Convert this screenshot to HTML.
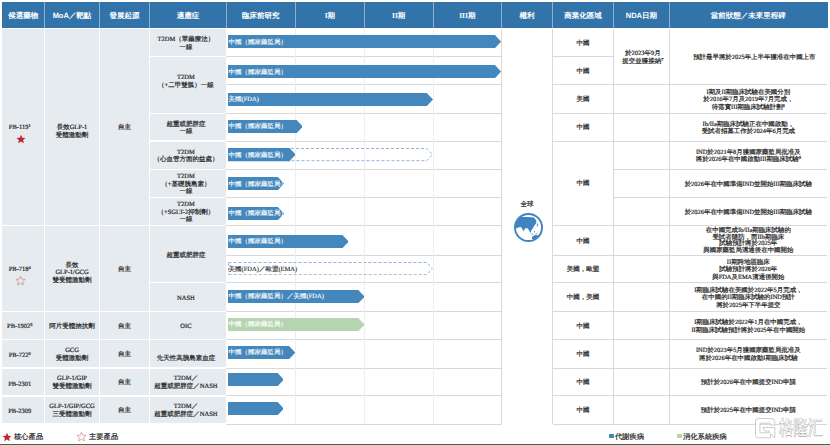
<!DOCTYPE html><html><head><meta charset="utf-8"><style>
html,body{margin:0;padding:0;background:#fff;width:830px;height:445px;overflow:hidden;text-rendering:geometricPrecision}
body>div{position:absolute;box-sizing:border-box}
svg{display:block}
sup{font-size:4.5px;line-height:1px;vertical-align:baseline;position:relative;top:-2.2px}
</style></head><body>
<div style="left:2.00px;top:2.00px;width:825.50px;height:26.00px;background:#3274aa"></div>
<div style="left:44.00px;top:2.00px;width:1.00px;height:26.00px;background:#8fb0cc"></div>
<div style="left:99.00px;top:2.00px;width:1.00px;height:26.00px;background:#8fb0cc"></div>
<div style="left:149.00px;top:2.00px;width:1.00px;height:26.00px;background:#8fb0cc"></div>
<div style="left:225.80px;top:2.00px;width:1.00px;height:26.00px;background:#8fb0cc"></div>
<div style="left:294.80px;top:2.00px;width:1.00px;height:26.00px;background:#8fb0cc"></div>
<div style="left:363.90px;top:2.00px;width:1.00px;height:26.00px;background:#8fb0cc"></div>
<div style="left:432.50px;top:2.00px;width:1.00px;height:26.00px;background:#8fb0cc"></div>
<div style="left:501.10px;top:2.00px;width:1.00px;height:26.00px;background:#8fb0cc"></div>
<div style="left:552.00px;top:2.00px;width:1.00px;height:26.00px;background:#8fb0cc"></div>
<div style="left:613.10px;top:2.00px;width:1.00px;height:26.00px;background:#8fb0cc"></div>
<div style="left:668.70px;top:2.00px;width:1.00px;height:26.00px;background:#8fb0cc"></div>
<div style="left:2.00px;top:2.50px;width:42.50px;height:26.00px;display:flex;align-items:center;justify-content:center;text-align:center;color:#fff;font-family:'Liberation Sans',sans-serif;font-weight:bold;font-size:7.5px;line-height:8px;"><div>候選藥物</div></div>
<div style="left:44.50px;top:2.50px;width:55.00px;height:26.00px;display:flex;align-items:center;justify-content:center;text-align:center;color:#fff;font-family:'Liberation Sans',sans-serif;font-weight:bold;font-size:7.5px;line-height:8px;"><div>MoA／靶點</div></div>
<div style="left:99.50px;top:2.50px;width:50.00px;height:26.00px;display:flex;align-items:center;justify-content:center;text-align:center;color:#fff;font-family:'Liberation Sans',sans-serif;font-weight:bold;font-size:7.5px;line-height:8px;"><div>發展起源</div></div>
<div style="left:149.50px;top:2.50px;width:76.80px;height:26.00px;display:flex;align-items:center;justify-content:center;text-align:center;color:#fff;font-family:'Liberation Sans',sans-serif;font-weight:bold;font-size:7.5px;line-height:8px;"><div>適應症</div></div>
<div style="left:226.30px;top:2.50px;width:69.00px;height:26.00px;display:flex;align-items:center;justify-content:center;text-align:center;color:#fff;font-family:'Liberation Sans',sans-serif;font-weight:bold;font-size:7.5px;line-height:8px;"><div>臨床前研究</div></div>
<div style="left:295.30px;top:2.50px;width:69.10px;height:26.00px;display:flex;align-items:center;justify-content:center;text-align:center;color:#fff;font-family:'Liberation Serif',serif;font-weight:bold;font-size:7.5px;line-height:8px;"><div>I期</div></div>
<div style="left:364.40px;top:2.50px;width:68.60px;height:26.00px;display:flex;align-items:center;justify-content:center;text-align:center;color:#fff;font-family:'Liberation Serif',serif;font-weight:bold;font-size:7.5px;line-height:8px;"><div>II期</div></div>
<div style="left:433.00px;top:2.50px;width:68.60px;height:26.00px;display:flex;align-items:center;justify-content:center;text-align:center;color:#fff;font-family:'Liberation Serif',serif;font-weight:bold;font-size:7.5px;line-height:8px;"><div>III期</div></div>
<div style="left:501.60px;top:2.50px;width:50.90px;height:26.00px;display:flex;align-items:center;justify-content:center;text-align:center;color:#fff;font-family:'Liberation Sans',sans-serif;font-weight:bold;font-size:7.5px;line-height:8px;"><div>權利</div></div>
<div style="left:552.50px;top:2.50px;width:61.10px;height:26.00px;display:flex;align-items:center;justify-content:center;text-align:center;color:#fff;font-family:'Liberation Sans',sans-serif;font-weight:bold;font-size:7.5px;line-height:8px;"><div>商業化區域</div></div>
<div style="left:613.60px;top:2.50px;width:55.60px;height:26.00px;display:flex;align-items:center;justify-content:center;text-align:center;color:#fff;font-family:'Liberation Sans',sans-serif;font-weight:bold;font-size:7.5px;line-height:8px;"><div>NDA日期</div></div>
<div style="left:669.20px;top:2.50px;width:158.30px;height:26.00px;display:flex;align-items:center;justify-content:center;text-align:center;color:#fff;font-family:'Liberation Sans',sans-serif;font-weight:bold;font-size:7.5px;line-height:8px;"><div>當前狀態／未來里程碑</div></div>
<div style="left:2.00px;top:29.00px;width:224.30px;height:394.30px;background:#e5ebef"></div>
<div style="left:44.00px;top:29.00px;width:1.00px;height:395.20px;background:#fff"></div>
<div style="left:99.00px;top:29.00px;width:1.00px;height:395.20px;background:#fff"></div>
<div style="left:149.00px;top:29.00px;width:1.00px;height:395.20px;background:#fff"></div>
<div style="left:225.50px;top:28.00px;width:2.30px;height:396.20px;background:#fff"></div>
<div style="left:2.00px;top:224.75px;width:147.50px;height:1.50px;background:#fff"></div>
<div style="left:2.00px;top:310.75px;width:147.50px;height:1.50px;background:#fff"></div>
<div style="left:2.00px;top:338.75px;width:147.50px;height:1.50px;background:#fff"></div>
<div style="left:2.00px;top:367.45px;width:147.50px;height:1.50px;background:#fff"></div>
<div style="left:2.00px;top:395.05px;width:147.50px;height:1.50px;background:#fff"></div>
<div style="left:149.50px;top:55.75px;width:76.80px;height:1.50px;background:#fff"></div>
<div style="left:149.50px;top:112.65px;width:76.80px;height:1.50px;background:#fff"></div>
<div style="left:149.50px;top:140.25px;width:76.80px;height:1.50px;background:#fff"></div>
<div style="left:149.50px;top:168.85px;width:76.80px;height:1.50px;background:#fff"></div>
<div style="left:149.50px;top:196.75px;width:76.80px;height:1.50px;background:#fff"></div>
<div style="left:149.50px;top:224.75px;width:76.80px;height:1.50px;background:#fff"></div>
<div style="left:149.50px;top:281.95px;width:76.80px;height:1.50px;background:#fff"></div>
<div style="left:149.50px;top:310.75px;width:76.80px;height:1.50px;background:#fff"></div>
<div style="left:149.50px;top:338.75px;width:76.80px;height:1.50px;background:#fff"></div>
<div style="left:149.50px;top:367.45px;width:76.80px;height:1.50px;background:#fff"></div>
<div style="left:149.50px;top:395.05px;width:76.80px;height:1.50px;background:#fff"></div>
<div style="left:226.30px;top:56.00px;width:275.30px;height:1.00px;background:#d9d9d9"></div>
<div style="left:226.30px;top:84.10px;width:275.30px;height:1.00px;background:#d9d9d9"></div>
<div style="left:226.30px;top:112.90px;width:275.30px;height:1.00px;background:#d9d9d9"></div>
<div style="left:226.30px;top:140.50px;width:275.30px;height:1.00px;background:#d9d9d9"></div>
<div style="left:226.30px;top:169.10px;width:275.30px;height:1.00px;background:#d9d9d9"></div>
<div style="left:226.30px;top:197.00px;width:275.30px;height:1.00px;background:#d9d9d9"></div>
<div style="left:226.30px;top:225.00px;width:275.30px;height:1.00px;background:#d9d9d9"></div>
<div style="left:226.30px;top:254.70px;width:275.30px;height:1.00px;background:#d9d9d9"></div>
<div style="left:226.30px;top:282.20px;width:275.30px;height:1.00px;background:#d9d9d9"></div>
<div style="left:226.30px;top:311.00px;width:275.30px;height:1.00px;background:#d9d9d9"></div>
<div style="left:226.30px;top:339.00px;width:275.30px;height:1.00px;background:#d9d9d9"></div>
<div style="left:226.30px;top:367.70px;width:275.30px;height:1.00px;background:#d9d9d9"></div>
<div style="left:226.30px;top:395.30px;width:275.30px;height:1.00px;background:#d9d9d9"></div>
<div style="left:226.30px;top:423.70px;width:275.30px;height:1.00px;background:#d9d9d9"></div>
<div style="left:294.80px;top:29.00px;width:1.00px;height:395.20px;background:#efefef"></div>
<div style="left:363.90px;top:29.00px;width:1.00px;height:395.20px;background:#efefef"></div>
<div style="left:432.50px;top:29.00px;width:1.00px;height:395.20px;background:#efefef"></div>
<div style="left:501.10px;top:29.00px;width:1.00px;height:395.20px;background:#d9d9d9"></div>
<div style="left:552.00px;top:29.00px;width:1.00px;height:395.20px;background:#d9d9d9"></div>
<div style="left:613.10px;top:29.00px;width:1.00px;height:395.20px;background:#d9d9d9"></div>
<div style="left:668.70px;top:29.00px;width:1.00px;height:395.20px;background:#d9d9d9"></div>
<div style="left:552.50px;top:56.00px;width:61.10px;height:1.00px;background:#d9d9d9"></div>
<div style="left:552.50px;top:84.10px;width:61.10px;height:1.00px;background:#d9d9d9"></div>
<div style="left:552.50px;top:112.90px;width:61.10px;height:1.00px;background:#d9d9d9"></div>
<div style="left:552.50px;top:140.50px;width:61.10px;height:1.00px;background:#d9d9d9"></div>
<div style="left:552.50px;top:225.00px;width:61.10px;height:1.00px;background:#d9d9d9"></div>
<div style="left:552.50px;top:254.70px;width:61.10px;height:1.00px;background:#d9d9d9"></div>
<div style="left:552.50px;top:282.20px;width:61.10px;height:1.00px;background:#d9d9d9"></div>
<div style="left:552.50px;top:311.00px;width:61.10px;height:1.00px;background:#d9d9d9"></div>
<div style="left:552.50px;top:339.00px;width:61.10px;height:1.00px;background:#d9d9d9"></div>
<div style="left:552.50px;top:367.70px;width:61.10px;height:1.00px;background:#d9d9d9"></div>
<div style="left:552.50px;top:395.30px;width:61.10px;height:1.00px;background:#d9d9d9"></div>
<div style="left:552.50px;top:423.70px;width:61.10px;height:1.00px;background:#d9d9d9"></div>
<div style="left:613.60px;top:84.10px;width:213.90px;height:1.00px;background:#d9d9d9"></div>
<div style="left:613.60px;top:112.90px;width:213.90px;height:1.00px;background:#d9d9d9"></div>
<div style="left:613.60px;top:140.50px;width:213.90px;height:1.00px;background:#d9d9d9"></div>
<div style="left:613.60px;top:169.10px;width:213.90px;height:1.00px;background:#d9d9d9"></div>
<div style="left:613.60px;top:197.00px;width:213.90px;height:1.00px;background:#d9d9d9"></div>
<div style="left:613.60px;top:225.00px;width:213.90px;height:1.00px;background:#d9d9d9"></div>
<div style="left:613.60px;top:254.70px;width:213.90px;height:1.00px;background:#d9d9d9"></div>
<div style="left:613.60px;top:282.20px;width:213.90px;height:1.00px;background:#d9d9d9"></div>
<div style="left:613.60px;top:311.00px;width:213.90px;height:1.00px;background:#d9d9d9"></div>
<div style="left:613.60px;top:339.00px;width:213.90px;height:1.00px;background:#d9d9d9"></div>
<div style="left:613.60px;top:367.70px;width:213.90px;height:1.00px;background:#d9d9d9"></div>
<div style="left:613.60px;top:395.30px;width:213.90px;height:1.00px;background:#d9d9d9"></div>
<div style="left:613.60px;top:423.70px;width:213.90px;height:1.00px;background:#d9d9d9"></div>
<div style="left:-1.50px;top:29.50px;width:42.50px;height:197.00px;display:flex;align-items:center;justify-content:center;text-align:center;color:#262626;-webkit-text-stroke:0.2px #262626;font-family:'Liberation Serif',serif;font-size:6.5px;line-height:7.6px;"><div>PB-119<sup>1</sup></div></div>
<div style="left:-1.50px;top:226.50px;width:42.50px;height:86.00px;display:flex;align-items:center;justify-content:center;text-align:center;color:#262626;-webkit-text-stroke:0.2px #262626;font-family:'Liberation Serif',serif;font-size:6.5px;line-height:7.6px;"><div>PB-718<sup>4</sup></div></div>
<div style="left:-1.50px;top:312.50px;width:42.50px;height:28.00px;display:flex;align-items:center;justify-content:center;text-align:center;color:#262626;-webkit-text-stroke:0.2px #262626;font-family:'Liberation Serif',serif;font-size:6.5px;line-height:7.6px;"><div>PB-1902<sup>5</sup></div></div>
<div style="left:-1.50px;top:341.30px;width:42.50px;height:28.70px;display:flex;align-items:center;justify-content:center;text-align:center;color:#262626;-webkit-text-stroke:0.2px #262626;font-family:'Liberation Serif',serif;font-size:6.5px;line-height:7.6px;"><div>PB-722<sup>6</sup></div></div>
<div style="left:-1.50px;top:370.80px;width:42.50px;height:27.60px;display:flex;align-items:center;justify-content:center;text-align:center;color:#262626;-webkit-text-stroke:0.2px #262626;font-family:'Liberation Serif',serif;font-size:6.5px;line-height:7.6px;"><div>PB-2301</div></div>
<div style="left:-1.50px;top:397.40px;width:42.50px;height:28.40px;display:flex;align-items:center;justify-content:center;text-align:center;color:#262626;-webkit-text-stroke:0.2px #262626;font-family:'Liberation Serif',serif;font-size:6.5px;line-height:7.6px;"><div>PB-2309</div></div>
<div style="left:16.00px;top:133.60px;width:10.50px;height:10.50px;"><svg width="10" height="10" viewBox="0 0 24 24" style="display:block;margin:0"><path d="M12 1.5l3.1 7.2 7.8.6-5.9 5.1 1.8 7.6L12 18l-6.8 4 1.8-7.6-5.9-5.1 7.8-.6z" fill="#c0272d"/></svg></div>
<div style="left:14.80px;top:274.50px;width:10.50px;height:10.50px;"><svg width="11" height="11" viewBox="0 0 24 24" style="display:block;margin:0"><path d="M12 2.5l2.9 6.6 7.2.6-5.5 4.8 1.7 7L12 17.8l-6.3 3.7 1.7-7-5.5-4.8 7.2-.6z" fill="none" stroke="#d27b7b" stroke-width="1.4"/></svg></div>
<div style="left:44.50px;top:33.00px;width:55.00px;height:197.00px;display:flex;align-items:center;justify-content:center;text-align:center;color:#262626;-webkit-text-stroke:0.2px #262626;font-family:'Liberation Serif',serif;font-size:6.5px;line-height:7.6px;"><div>長效GLP-1<br>受體激動劑</div></div>
<div style="left:44.50px;top:230.00px;width:55.00px;height:86.00px;display:flex;align-items:center;justify-content:center;text-align:center;color:#262626;-webkit-text-stroke:0.2px #262626;font-family:'Liberation Serif',serif;font-size:6.5px;line-height:7.6px;"><div>長效<br>GLP-1/GCG<br>雙受體激動劑</div></div>
<div style="left:44.50px;top:312.50px;width:55.00px;height:28.00px;display:flex;align-items:center;justify-content:center;text-align:center;color:#262626;-webkit-text-stroke:0.2px #262626;font-family:'Liberation Serif',serif;font-size:6.5px;line-height:7.6px;"><div>阿片受體拮抗劑</div></div>
<div style="left:44.50px;top:340.50px;width:55.00px;height:28.70px;display:flex;align-items:center;justify-content:center;text-align:center;color:#262626;-webkit-text-stroke:0.2px #262626;font-family:'Liberation Serif',serif;font-size:6.5px;line-height:7.6px;"><div>GCG<br>受體激動劑</div></div>
<div style="left:44.50px;top:369.20px;width:55.00px;height:27.60px;display:flex;align-items:center;justify-content:center;text-align:center;color:#262626;-webkit-text-stroke:0.2px #262626;font-family:'Liberation Serif',serif;font-size:6.5px;line-height:7.6px;"><div>GLP-1/GIP<br>雙受體激動劑</div></div>
<div style="left:44.50px;top:396.80px;width:55.00px;height:28.40px;display:flex;align-items:center;justify-content:center;text-align:center;color:#262626;-webkit-text-stroke:0.2px #262626;font-family:'Liberation Serif',serif;font-size:6.5px;line-height:7.6px;"><div>GLP-1/GIP/GCG<br>三受體激動劑</div></div>
<div style="left:99.50px;top:29.50px;width:50.00px;height:197.00px;display:flex;align-items:center;justify-content:center;text-align:center;color:#262626;-webkit-text-stroke:0.2px #262626;font-family:'Liberation Serif',serif;font-size:6.5px;line-height:7.6px;"><div>自主</div></div>
<div style="left:99.50px;top:226.50px;width:50.00px;height:86.00px;display:flex;align-items:center;justify-content:center;text-align:center;color:#262626;-webkit-text-stroke:0.2px #262626;font-family:'Liberation Serif',serif;font-size:6.5px;line-height:7.6px;"><div>自主</div></div>
<div style="left:99.50px;top:312.50px;width:50.00px;height:28.00px;display:flex;align-items:center;justify-content:center;text-align:center;color:#262626;-webkit-text-stroke:0.2px #262626;font-family:'Liberation Serif',serif;font-size:6.5px;line-height:7.6px;"><div>自主</div></div>
<div style="left:99.50px;top:340.50px;width:50.00px;height:28.70px;display:flex;align-items:center;justify-content:center;text-align:center;color:#262626;-webkit-text-stroke:0.2px #262626;font-family:'Liberation Serif',serif;font-size:6.5px;line-height:7.6px;"><div>自主</div></div>
<div style="left:99.50px;top:369.20px;width:50.00px;height:27.60px;display:flex;align-items:center;justify-content:center;text-align:center;color:#262626;-webkit-text-stroke:0.2px #262626;font-family:'Liberation Serif',serif;font-size:6.5px;line-height:7.6px;"><div>自主</div></div>
<div style="left:99.50px;top:396.80px;width:50.00px;height:28.40px;display:flex;align-items:center;justify-content:center;text-align:center;color:#262626;-webkit-text-stroke:0.2px #262626;font-family:'Liberation Serif',serif;font-size:6.5px;line-height:7.6px;"><div>自主</div></div>
<div style="left:147.50px;top:29.50px;width:76.80px;height:28.00px;display:flex;align-items:center;justify-content:center;text-align:center;color:#262626;-webkit-text-stroke:0.2px #262626;font-family:'Liberation Serif',serif;font-size:6.5px;line-height:7.6px;"><div>T2DM（單藥療法）<br>一線</div></div>
<div style="left:147.50px;top:53.50px;width:76.80px;height:56.90px;display:flex;align-items:center;justify-content:center;text-align:center;color:#262626;-webkit-text-stroke:0.2px #262626;font-family:'Liberation Serif',serif;font-size:6.5px;line-height:7.6px;"><div>T2DM<br>（+二甲雙胍）一線</div></div>
<div style="left:147.50px;top:114.40px;width:76.80px;height:27.60px;display:flex;align-items:center;justify-content:center;text-align:center;color:#262626;-webkit-text-stroke:0.2px #262626;font-family:'Liberation Serif',serif;font-size:6.5px;line-height:7.6px;"><div>超重或肥胖症<br>一線</div></div>
<div style="left:147.50px;top:142.00px;width:76.80px;height:28.60px;display:flex;align-items:center;justify-content:center;text-align:center;color:#262626;-webkit-text-stroke:0.2px #262626;font-family:'Liberation Serif',serif;font-size:6.5px;line-height:7.6px;"><div>T2DM<br>（心血管方面的益處）</div></div>
<div style="left:147.50px;top:170.60px;width:76.80px;height:27.90px;display:flex;align-items:center;justify-content:center;text-align:center;color:#262626;-webkit-text-stroke:0.2px #262626;font-family:'Liberation Serif',serif;font-size:6.5px;line-height:7.6px;"><div>T2DM<br>（+基礎胰島素）<br>一線</div></div>
<div style="left:147.50px;top:198.50px;width:76.80px;height:28.00px;display:flex;align-items:center;justify-content:center;text-align:center;color:#262626;-webkit-text-stroke:0.2px #262626;font-family:'Liberation Serif',serif;font-size:6.5px;line-height:7.6px;"><div>T2DM<br>（+SGLT-2抑制劑）<br>一線</div></div>
<div style="left:147.50px;top:227.50px;width:76.80px;height:57.20px;display:flex;align-items:center;justify-content:center;text-align:center;color:#262626;-webkit-text-stroke:0.2px #262626;font-family:'Liberation Serif',serif;font-size:6.5px;line-height:7.6px;"><div>超重或肥胖症</div></div>
<div style="left:147.50px;top:284.70px;width:76.80px;height:28.80px;display:flex;align-items:center;justify-content:center;text-align:center;color:#262626;-webkit-text-stroke:0.2px #262626;font-family:'Liberation Serif',serif;font-size:6.5px;line-height:7.6px;"><div>NASH</div></div>
<div style="left:147.50px;top:312.50px;width:76.80px;height:28.00px;display:flex;align-items:center;justify-content:center;text-align:center;color:#262626;-webkit-text-stroke:0.2px #262626;font-family:'Liberation Serif',serif;font-size:6.5px;line-height:7.6px;"><div>OIC</div></div>
<div style="left:147.50px;top:344.30px;width:76.80px;height:28.70px;display:flex;align-items:center;justify-content:center;text-align:center;color:#262626;-webkit-text-stroke:0.2px #262626;font-family:'Liberation Serif',serif;font-size:6.5px;line-height:7.6px;"><div>先天性高胰島素血症</div></div>
<div style="left:147.50px;top:369.20px;width:76.80px;height:27.60px;display:flex;align-items:center;justify-content:center;text-align:center;color:#262626;-webkit-text-stroke:0.2px #262626;font-family:'Liberation Serif',serif;font-size:6.5px;line-height:7.6px;"><div>T2DM／<br>超重或肥胖症／NASH</div></div>
<div style="left:147.50px;top:396.80px;width:76.80px;height:28.40px;display:flex;align-items:center;justify-content:center;text-align:center;color:#262626;-webkit-text-stroke:0.2px #262626;font-family:'Liberation Serif',serif;font-size:6.5px;line-height:7.6px;"><div>T2DM／<br>超重或肥胖症／NASH</div></div>
<div style="left:227.60px;top:35.30px;width:273.20px;height:13.20px;"><svg width="273.20" height="13.2" style="position:absolute;left:0;top:0"><polygon points="0,0 266.90,0 273.20,6.6 266.90,13.2 0,13.2" fill="#4387bc"/></svg><div style="position:absolute;left:1px;top:0.7px;height:13.2px;line-height:13.2px;white-space:nowrap;color:#fff;font-family:'Liberation Serif',serif;font-size:6.5px;-webkit-text-stroke:0.12px #fff">中國（國家藥監局）</div></div>
<div style="left:227.60px;top:65.10px;width:273.20px;height:13.20px;"><svg width="273.20" height="13.2" style="position:absolute;left:0;top:0"><polygon points="0,0 266.90,0 273.20,6.6 266.90,13.2 0,13.2" fill="#4387bc"/></svg><div style="position:absolute;left:1px;top:0.7px;height:13.2px;line-height:13.2px;white-space:nowrap;color:#fff;font-family:'Liberation Serif',serif;font-size:6.5px;-webkit-text-stroke:0.12px #fff">中國（國家藥監局）</div></div>
<div style="left:227.60px;top:92.80px;width:205.00px;height:13.20px;"><svg width="205.00" height="13.2" style="position:absolute;left:0;top:0"><polygon points="0,0 198.70,0 205.00,6.6 198.70,13.2 0,13.2" fill="#4387bc"/></svg><div style="position:absolute;left:1px;top:0.7px;height:13.2px;line-height:13.2px;white-space:nowrap;color:#fff;font-family:'Liberation Serif',serif;font-size:6.5px;-webkit-text-stroke:0.12px #fff">美國(FDA)</div></div>
<div style="left:227.60px;top:119.70px;width:74.90px;height:13.20px;"><svg width="74.90" height="13.2" style="position:absolute;left:0;top:0"><polygon points="0,0 68.60,0 74.90,6.6 68.60,13.2 0,13.2" fill="#4387bc"/></svg><div style="position:absolute;left:1px;top:0.7px;height:13.2px;line-height:13.2px;white-space:nowrap;color:#fff;font-family:'Liberation Serif',serif;font-size:6.5px;-webkit-text-stroke:0.12px #fff">中國（國家藥監局）</div></div>
<div style="left:285.50px;top:148.40px;width:147.10px;height:13.20px;"><svg width="147.10" height="13.2" style="position:absolute;left:0;top:0"><polyline points="0,0.5 140.80,0.5 146.60,6.6 140.80,12.7 0,12.7" fill="none" stroke="#8fb5d8" stroke-width="1" stroke-dasharray="3 2"/></svg></div>
<div style="left:227.60px;top:148.40px;width:67.70px;height:13.20px;"><svg width="67.70" height="13.2" style="position:absolute;left:0;top:0"><polygon points="0,0 61.40,0 67.70,6.6 61.40,13.2 0,13.2" fill="#4387bc"/></svg><div style="position:absolute;left:1px;top:0.7px;height:13.2px;line-height:13.2px;white-space:nowrap;color:#fff;font-family:'Liberation Serif',serif;font-size:6.5px;-webkit-text-stroke:0.12px #fff">中國（國家藥監局）</div></div>
<div style="left:227.60px;top:177.30px;width:56.10px;height:13.20px;"><svg width="56.10" height="13.2" style="position:absolute;left:0;top:0"><polygon points="0,0 49.80,0 56.10,6.6 49.80,13.2 0,13.2" fill="#4387bc"/></svg><div style="position:absolute;left:1px;top:0.7px;height:13.2px;line-height:13.2px;white-space:nowrap;color:#fff;font-family:'Liberation Serif',serif;font-size:6.5px;-webkit-text-stroke:0.12px #fff">中國（國家藥監局）</div></div>
<div style="left:227.60px;top:206.60px;width:56.10px;height:13.20px;"><svg width="56.10" height="13.2" style="position:absolute;left:0;top:0"><polygon points="0,0 49.80,0 56.10,6.6 49.80,13.2 0,13.2" fill="#4387bc"/></svg><div style="position:absolute;left:1px;top:0.7px;height:13.2px;line-height:13.2px;white-space:nowrap;color:#fff;font-family:'Liberation Serif',serif;font-size:6.5px;-webkit-text-stroke:0.12px #fff">中國（國家藥監局）</div></div>
<div style="left:227.60px;top:234.60px;width:120.70px;height:13.20px;"><svg width="120.70" height="13.2" style="position:absolute;left:0;top:0"><polygon points="0,0 114.40,0 120.70,6.6 114.40,13.2 0,13.2" fill="#4387bc"/></svg><div style="position:absolute;left:1px;top:0.7px;height:13.2px;line-height:13.2px;white-space:nowrap;color:#fff;font-family:'Liberation Serif',serif;font-size:6.5px;-webkit-text-stroke:0.12px #fff">中國（國家藥監局）</div></div>
<div style="left:227.60px;top:262.10px;width:205.00px;height:13.20px;"><svg width="205.00" height="13.2" style="position:absolute;left:0;top:0"><polyline points="0.5,0.5 198.70,0.5 204.50,6.6 198.70,12.7 0.5,12.7" fill="none" stroke="#8fb5d8" stroke-width="1" stroke-dasharray="3 2"/><line x1="0.5" y1="1" x2="0.5" y2="12.2" stroke="#8fb5d8" stroke-width="1" stroke-dasharray="3 2"/></svg><div style="position:absolute;left:1px;top:0.7px;height:13.2px;line-height:13.2px;white-space:nowrap;color:#262626;font-family:'Liberation Serif',serif;font-size:6.5px;-webkit-text-stroke:0.12px #262626">美國(FDA)／歐盟(EMA)</div></div>
<div style="left:227.60px;top:289.80px;width:136.60px;height:13.20px;"><svg width="136.60" height="13.2" style="position:absolute;left:0;top:0"><polygon points="0,0 130.30,0 136.60,6.6 130.30,13.2 0,13.2" fill="#4387bc"/></svg><div style="position:absolute;left:1px;top:0.7px;height:13.2px;line-height:13.2px;white-space:nowrap;color:#fff;font-family:'Liberation Serif',serif;font-size:6.5px;-webkit-text-stroke:0.12px #fff">中國（國家藥監局）／美國(FDA)</div></div>
<div style="left:227.60px;top:317.70px;width:136.60px;height:13.20px;"><svg width="136.60" height="13.2" style="position:absolute;left:0;top:0"><polygon points="0,0 130.30,0 136.60,6.6 130.30,13.2 0,13.2" fill="#b7d4b0"/></svg><div style="position:absolute;left:1px;top:0.7px;height:13.2px;line-height:13.2px;white-space:nowrap;color:#fff;font-family:'Liberation Serif',serif;font-size:6.5px;-webkit-text-stroke:0.12px #fff">中國（國家藥監局）</div></div>
<div style="left:227.60px;top:345.80px;width:67.30px;height:13.20px;"><svg width="67.30" height="13.2" style="position:absolute;left:0;top:0"><polygon points="0,0 61.00,0 67.30,6.6 61.00,13.2 0,13.2" fill="#4387bc"/></svg><div style="position:absolute;left:1px;top:0.7px;height:13.2px;line-height:13.2px;white-space:nowrap;color:#fff;font-family:'Liberation Serif',serif;font-size:6.5px;-webkit-text-stroke:0.12px #fff">中國（國家藥監局）</div></div>
<div style="left:227.60px;top:372.80px;width:55.90px;height:13.20px;"><svg width="55.90" height="13.2" style="position:absolute;left:0;top:0"><polygon points="0,0 49.60,0 55.90,6.6 49.60,13.2 0,13.2" fill="#4387bc"/></svg><div style="position:absolute;left:1px;top:0.7px;height:13.2px;line-height:13.2px;white-space:nowrap;color:#fff;font-family:'Liberation Serif',serif;font-size:6.5px;-webkit-text-stroke:0.12px #fff"></div></div>
<div style="left:227.60px;top:401.80px;width:55.90px;height:13.20px;"><svg width="55.90" height="13.2" style="position:absolute;left:0;top:0"><polygon points="0,0 49.60,0 55.90,6.6 49.60,13.2 0,13.2" fill="#4387bc"/></svg><div style="position:absolute;left:1px;top:0.7px;height:13.2px;line-height:13.2px;white-space:nowrap;color:#fff;font-family:'Liberation Serif',serif;font-size:6.5px;-webkit-text-stroke:0.12px #fff"></div></div>
<div style="left:502.00px;top:201.00px;width:50.00px;height:8.00px;color:#262626;-webkit-text-stroke:0.2px #262626;font-family:'Liberation Serif',serif;font-size:6.5px;line-height:7.6px;text-align:center;white-space:nowrap">全球</div>
<div style="left:514.30px;top:213.10px;width:29.00px;height:29.00px;"><svg width="29" height="29" viewBox="0 0 30 30">
<circle cx="15" cy="15" r="14" fill="#fff"/>
<g fill="#3f84c0">
<path d="M0,16.2 L3.8,15.2 L6.3,14.4 L8,15.2 L8.9,17.3 L9.7,18.8 L11,16.9 L12.3,15.6 L14.4,16.1 L15.6,18.2 L16.9,20.9 L17.7,18.2 L19.4,16.1 L20.7,13.5 L22,11.8 L23.2,9.7 L22.8,7.2 L21.5,5.9 L21,4.8 C18,4 11,4 7.6,4.2 L5,1 L0,1 Z"/>
<path d="M18.6,24.5 L22.4,22.4 L26.2,23.7 L25.4,26.6 L20.7,28 L18.6,26.6 Z"/>
<path d="M24,10.5 L25,11.5 L24.6,13.5 L23.6,14.5 Z M20.5,18.5 L21.8,19 L21,20.8 Z M17.5,21.2 L21,21.6 L19,22.4 Z M22,20.8 L24.5,21.5 L23,22 Z"/>
</g><circle cx="15" cy="15" r="17.5" fill="none" stroke="#fff" stroke-width="7.8"/><circle cx="15" cy="15" r="14" fill="none" stroke="#3f84c0" stroke-width="2"/></svg></div>
<div style="left:552.50px;top:29.50px;width:61.10px;height:28.00px;display:flex;align-items:center;justify-content:center;text-align:center;color:#262626;-webkit-text-stroke:0.2px #262626;font-family:'Liberation Serif',serif;font-size:6.5px;line-height:7.6px;"><div>中國</div></div>
<div style="left:552.50px;top:57.50px;width:61.10px;height:28.10px;display:flex;align-items:center;justify-content:center;text-align:center;color:#262626;-webkit-text-stroke:0.2px #262626;font-family:'Liberation Serif',serif;font-size:6.5px;line-height:7.6px;"><div>中國</div></div>
<div style="left:552.50px;top:85.60px;width:61.10px;height:28.80px;display:flex;align-items:center;justify-content:center;text-align:center;color:#262626;-webkit-text-stroke:0.2px #262626;font-family:'Liberation Serif',serif;font-size:6.5px;line-height:7.6px;"><div>美國</div></div>
<div style="left:552.50px;top:114.40px;width:61.10px;height:27.60px;display:flex;align-items:center;justify-content:center;text-align:center;color:#262626;-webkit-text-stroke:0.2px #262626;font-family:'Liberation Serif',serif;font-size:6.5px;line-height:7.6px;"><div>中國</div></div>
<div style="left:552.50px;top:142.00px;width:61.10px;height:84.50px;display:flex;align-items:center;justify-content:center;text-align:center;color:#262626;-webkit-text-stroke:0.2px #262626;font-family:'Liberation Serif',serif;font-size:6.5px;line-height:7.6px;"><div>中國</div></div>
<div style="left:552.50px;top:226.50px;width:61.10px;height:29.70px;display:flex;align-items:center;justify-content:center;text-align:center;color:#262626;-webkit-text-stroke:0.2px #262626;font-family:'Liberation Serif',serif;font-size:6.5px;line-height:7.6px;"><div>中國</div></div>
<div style="left:552.50px;top:256.20px;width:61.10px;height:27.50px;display:flex;align-items:center;justify-content:center;text-align:center;color:#262626;-webkit-text-stroke:0.2px #262626;font-family:'Liberation Serif',serif;font-size:6.5px;line-height:7.6px;"><div>美國，歐盟</div></div>
<div style="left:552.50px;top:283.70px;width:61.10px;height:28.80px;display:flex;align-items:center;justify-content:center;text-align:center;color:#262626;-webkit-text-stroke:0.2px #262626;font-family:'Liberation Serif',serif;font-size:6.5px;line-height:7.6px;"><div>中國，美國</div></div>
<div style="left:552.50px;top:312.50px;width:61.10px;height:28.00px;display:flex;align-items:center;justify-content:center;text-align:center;color:#262626;-webkit-text-stroke:0.2px #262626;font-family:'Liberation Serif',serif;font-size:6.5px;line-height:7.6px;"><div>中國</div></div>
<div style="left:552.50px;top:340.50px;width:61.10px;height:28.70px;display:flex;align-items:center;justify-content:center;text-align:center;color:#262626;-webkit-text-stroke:0.2px #262626;font-family:'Liberation Serif',serif;font-size:6.5px;line-height:7.6px;"><div>中國</div></div>
<div style="left:552.50px;top:369.20px;width:61.10px;height:27.60px;display:flex;align-items:center;justify-content:center;text-align:center;color:#262626;-webkit-text-stroke:0.2px #262626;font-family:'Liberation Serif',serif;font-size:6.5px;line-height:7.6px;"><div>中國</div></div>
<div style="left:552.50px;top:396.80px;width:61.10px;height:28.40px;display:flex;align-items:center;justify-content:center;text-align:center;color:#262626;-webkit-text-stroke:0.2px #262626;font-family:'Liberation Serif',serif;font-size:6.5px;line-height:7.6px;"><div>中國</div></div>
<div style="left:615.10px;top:30.00px;width:55.60px;height:56.10px;display:flex;align-items:center;justify-content:center;text-align:center;color:#262626;-webkit-text-stroke:0.2px #262626;font-family:'Liberation Serif',serif;font-size:6.5px;line-height:7.6px;"><div>於2023年9月<br>提交並獲接納<sup>7</sup></div></div>
<div style="left:675.20px;top:29.50px;width:158.30px;height:56.10px;display:flex;align-items:center;justify-content:center;text-align:center;color:#262626;-webkit-text-stroke:0.2px #262626;font-family:'Liberation Serif',serif;font-size:6.45px;line-height:7.6px;"><div>預計最早將於2025年上半年獲准在中國上市</div></div>
<div style="left:669.20px;top:85.60px;width:158.30px;height:28.80px;display:flex;align-items:center;justify-content:center;text-align:center;color:#262626;-webkit-text-stroke:0.2px #262626;font-family:'Liberation Serif',serif;font-size:6.45px;line-height:7.6px;"><div>I期及II期臨床試驗在美國分別<br>於2016年7月及2019年7月完成，<br>待落實III期臨床試驗計劃<sup>8</sup></div></div>
<div style="left:669.20px;top:114.40px;width:158.30px;height:27.60px;display:flex;align-items:center;justify-content:center;text-align:center;color:#262626;-webkit-text-stroke:0.2px #262626;font-family:'Liberation Serif',serif;font-size:6.45px;line-height:7.6px;"><div>Ib/IIa期臨床試驗正在中國啟動，<br>受試者招募工作於2024年6月完成</div></div>
<div style="left:669.20px;top:142.00px;width:158.30px;height:28.60px;display:flex;align-items:center;justify-content:center;text-align:center;color:#262626;-webkit-text-stroke:0.2px #262626;font-family:'Liberation Serif',serif;font-size:6.45px;line-height:7.6px;"><div>IND於2021年8月獲國家藥監局批准及<br>將於2026年在中國啟動III期臨床試驗<sup>9</sup></div></div>
<div style="left:669.20px;top:170.60px;width:158.30px;height:27.90px;display:flex;align-items:center;justify-content:center;text-align:center;color:#262626;-webkit-text-stroke:0.2px #262626;font-family:'Liberation Serif',serif;font-size:6.45px;line-height:7.6px;"><div>於2026年在中國準備IND並開始III期臨床試驗</div></div>
<div style="left:669.20px;top:198.50px;width:158.30px;height:28.00px;display:flex;align-items:center;justify-content:center;text-align:center;color:#262626;-webkit-text-stroke:0.2px #262626;font-family:'Liberation Serif',serif;font-size:6.45px;line-height:7.6px;"><div>於2026年在中國準備IND並開始III期臨床試驗</div></div>
<div style="left:669.20px;top:226.50px;width:158.30px;height:29.70px;display:flex;align-items:center;justify-content:center;text-align:center;color:#262626;-webkit-text-stroke:0.2px #262626;font-family:'Liberation Serif',serif;font-size:6.45px;line-height:6.75px;"><div>在中國完成Ib/IIa期臨床試驗的<br>受試者隨訪，而IIb期臨床<br>試驗預計將於2025年<br>與國家藥監局溝通後在中國開始</div></div>
<div style="left:669.20px;top:256.20px;width:158.30px;height:27.50px;display:flex;align-items:center;justify-content:center;text-align:center;color:#262626;-webkit-text-stroke:0.2px #262626;font-family:'Liberation Serif',serif;font-size:6.45px;line-height:7.6px;"><div>II期跨地區臨床<br>試驗預計將於2026年<br>與FDA及EMA溝通後開始</div></div>
<div style="left:669.20px;top:283.70px;width:158.30px;height:28.80px;display:flex;align-items:center;justify-content:center;text-align:center;color:#262626;-webkit-text-stroke:0.2px #262626;font-family:'Liberation Serif',serif;font-size:6.45px;line-height:7.6px;"><div>I期臨床試驗在美國於2022年5月完成，<br>在中國的II期臨床試驗的IND預計<br>將於2025年下半年提交</div></div>
<div style="left:669.20px;top:312.50px;width:158.30px;height:28.00px;display:flex;align-items:center;justify-content:center;text-align:center;color:#262626;-webkit-text-stroke:0.2px #262626;font-family:'Liberation Serif',serif;font-size:6.45px;line-height:7.6px;"><div>I期臨床試驗於2022年1月在中國完成，<br>II期臨床試驗預計將於2025年在中國開始</div></div>
<div style="left:669.20px;top:340.50px;width:158.30px;height:28.70px;display:flex;align-items:center;justify-content:center;text-align:center;color:#262626;-webkit-text-stroke:0.2px #262626;font-family:'Liberation Serif',serif;font-size:6.45px;line-height:7.6px;"><div>IND於2023年5月獲國家藥監局批准及<br>將於2026年在中國啟動I期臨床試驗</div></div>
<div style="left:669.20px;top:369.20px;width:158.30px;height:27.60px;display:flex;align-items:center;justify-content:center;text-align:center;color:#262626;-webkit-text-stroke:0.2px #262626;font-family:'Liberation Serif',serif;font-size:6.45px;line-height:7.6px;"><div>預計於2026年在中國提交IND申請</div></div>
<div style="left:669.20px;top:396.80px;width:158.30px;height:28.40px;display:flex;align-items:center;justify-content:center;text-align:center;color:#262626;-webkit-text-stroke:0.2px #262626;font-family:'Liberation Serif',serif;font-size:6.45px;line-height:7.6px;"><div>預計於2025年在中國提交IND申請</div></div>
<div style="left:2.00px;top:431.50px;width:10.00px;height:10.00px;"><svg width="10" height="10" viewBox="0 0 24 24"><path d="M12 1.5l3.1 7.2 7.8.6-5.9 5.1 1.8 7.6L12 18l-6.8 4 1.8-7.6-5.9-5.1 7.8-.6z" fill="#c0272d"/></svg></div>
<div style="left:14.00px;top:432.50px;width:40.00px;height:8.00px;color:#262626;-webkit-text-stroke:0.2px #262626;font-family:'Liberation Serif',serif;font-size:7.3px;line-height:8px;white-space:nowrap;">核心產品</div>
<div style="left:76.00px;top:431.00px;width:11.00px;height:11.00px;"><svg width="11" height="11" viewBox="0 0 24 24"><path d="M12 2.5l2.9 6.6 7.2.6-5.5 4.8 1.7 7L12 17.8l-6.3 3.7 1.7-7-5.5-4.8 7.2-.6z" fill="none" stroke="#d27b7b" stroke-width="1.4"/></svg></div>
<div style="left:89.00px;top:432.50px;width:40.00px;height:8.00px;color:#262626;-webkit-text-stroke:0.2px #262626;font-family:'Liberation Serif',serif;font-size:7.3px;line-height:8px;white-space:nowrap;">主要產品</div>
<div style="left:609.00px;top:434.30px;width:4.50px;height:3.50px;background:#4387bc"></div>
<div style="left:615.00px;top:432.50px;width:40.00px;height:8.00px;color:#262626;-webkit-text-stroke:0.2px #262626;font-family:'Liberation Serif',serif;font-size:7.3px;line-height:8px;white-space:nowrap;">代謝疾病</div>
<div style="left:677.00px;top:434.30px;width:4.50px;height:3.50px;background:#b7d4b0"></div>
<div style="left:683.00px;top:432.50px;width:50.00px;height:8.00px;color:#262626;-webkit-text-stroke:0.2px #262626;font-family:'Liberation Serif',serif;font-size:7.3px;line-height:8px;white-space:nowrap;">消化系統疾病</div>
<div style="left:755.00px;top:418.00px;width:75.00px;height:21.00px;"><svg width="21" height="21" viewBox="0 0 21 21" style="position:absolute;left:0;top:0">
<path fill-rule="evenodd" d="M3.5,0.5 H16.5 Q19.8,0.5 19.8,3.5 V7 H15.2 V5.2 H5 V14.8 H14.2 V13 H9.5 L8,9.6 H19.8 V19.8 L15.5,15.8 V19.8 H3.5 Q0.5,19.8 0.5,16.8 V3.5 Q0.5,0.5 3.5,0.5 Z" fill="#fff" stroke="#aaaaaa" stroke-width="0.6"/>
</svg>
<div style="position:absolute;left:23.5px;top:-2px;width:60px;font-family:'Liberation Sans',sans-serif;font-size:20px;line-height:24px;color:#fff;text-shadow:0.5px 0 0 #b0b0b0,-0.5px 0 0 #b0b0b0,0 0.5px 0 #b0b0b0,0 -0.5px 0 #b0b0b0;white-space:nowrap;transform:scaleX(0.73);transform-origin:0 0">格隆汇</div></div>
<div style="left:0.00px;top:444.00px;width:830.00px;height:1.00px;background:#3f6a47"></div>
</body></html>
